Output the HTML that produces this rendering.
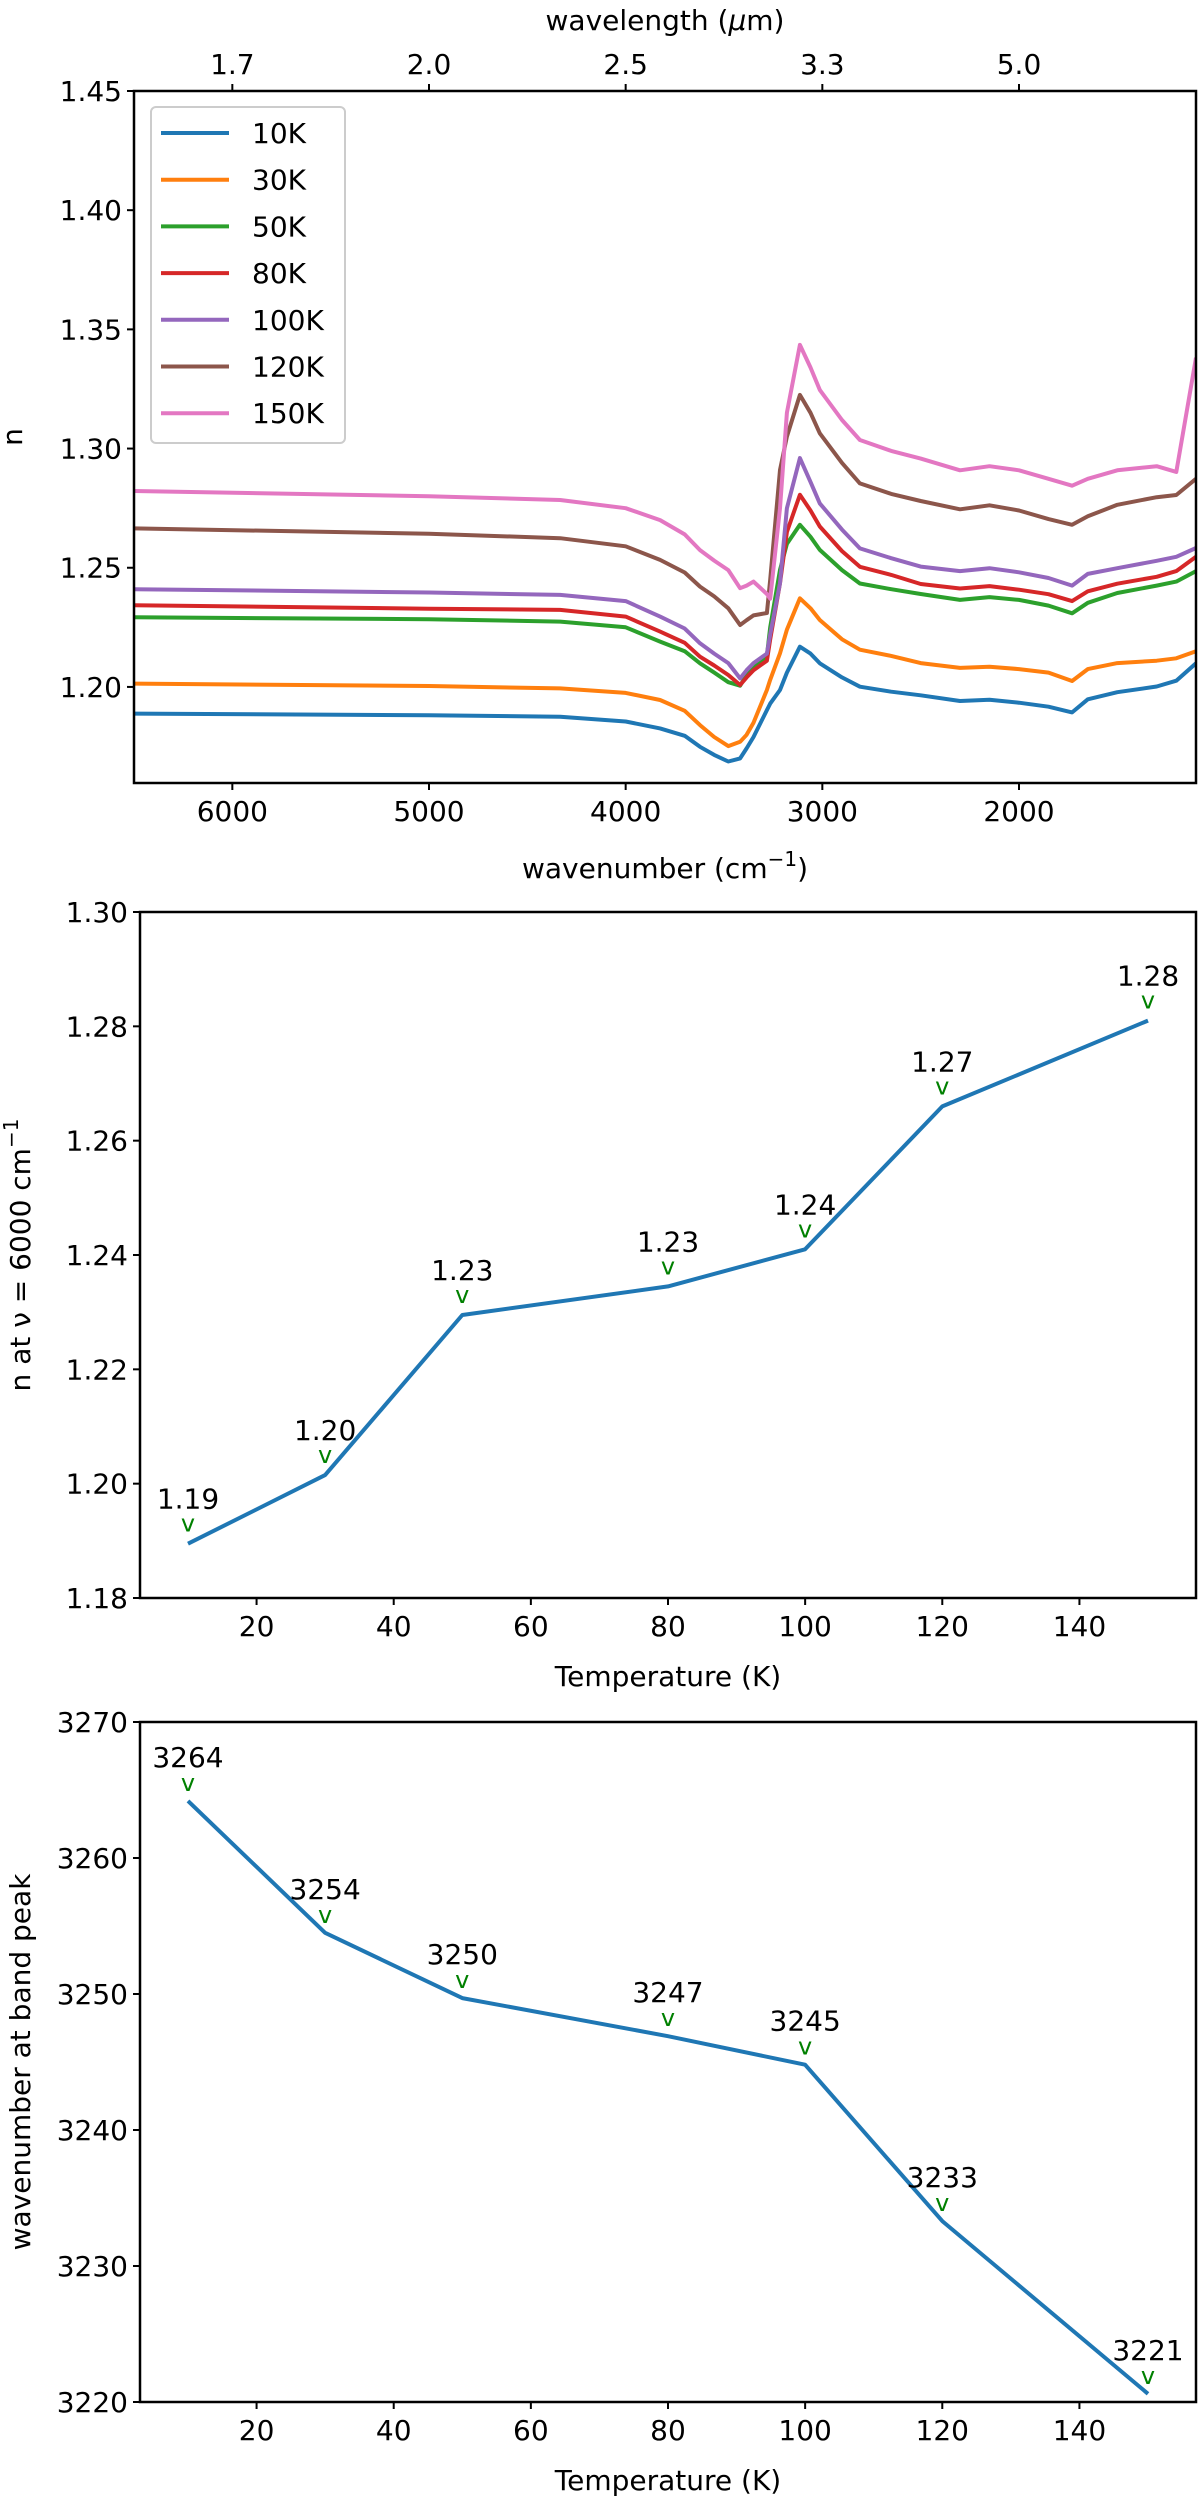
<!DOCTYPE html>
<html><head><meta charset="utf-8"><style>
html,body{margin:0;padding:0;background:#fff;}
svg{display:block;font-family:"DejaVu Sans","Liberation Sans",sans-serif;}
</style></head><body>
<svg id="fig" width="1200" height="2499" viewBox="0 0 1200 2499"></svg>
<script>
// ---------- Chart 1 data ----------
const wavenumbers=[6500,5000,4333,4000,3825,3700,3622,3550,3478,3418,3385,3350,3282,3265,3215,3180,3114,3060,3013,2900,2809,2650,2500,2300,2150,2000,1850,1730,1650,1500,1300,1200,1100];
const n10K=[1.1888,1.1881,1.1875,1.1855,1.1826,1.1795,1.1749,1.1715,1.1687,1.1700,1.1742,1.1790,1.1903,1.1930,1.1987,1.2060,1.2169,1.2140,1.2099,1.2040,1.2001,1.1980,1.1965,1.1941,1.1946,1.1934,1.1917,1.1893,1.1948,1.1978,1.2002,1.2026,1.2099];
const n30K=[1.2014,1.2004,1.1994,1.1975,1.1945,1.1900,1.1840,1.1790,1.1752,1.1770,1.1799,1.1850,1.1987,1.2030,1.2141,1.2240,1.2372,1.2330,1.2281,1.2200,1.2156,1.2130,1.2100,1.2080,1.2085,1.2075,1.2060,1.2025,1.2075,1.2100,1.2110,1.2120,1.2150];
const n50K=[1.2292,1.2284,1.2274,1.2250,1.2190,1.2150,1.2099,1.2060,1.2020,1.2005,1.2050,1.2085,1.2130,1.2250,1.2491,1.2600,1.2680,1.2630,1.2575,1.2490,1.2434,1.2410,1.2390,1.2365,1.2377,1.2365,1.2341,1.2309,1.2353,1.2394,1.2425,1.2442,1.2486];
const n80K=[1.2343,1.2328,1.2323,1.2295,1.2232,1.2185,1.2127,1.2090,1.2050,1.2008,1.2040,1.2070,1.2110,1.2200,1.2435,1.2650,1.2806,1.2740,1.2673,1.2570,1.2504,1.2470,1.2432,1.2413,1.2423,1.2408,1.2389,1.2360,1.2401,1.2433,1.2462,1.2486,1.2546];
const n100K=[1.2410,1.2396,1.2386,1.2360,1.2295,1.2245,1.2183,1.2140,1.2100,1.2036,1.2070,1.2100,1.2140,1.2220,1.2435,1.2750,1.2960,1.2860,1.2770,1.2660,1.2581,1.2540,1.2505,1.2486,1.2498,1.2481,1.2457,1.2425,1.2474,1.2498,1.2529,1.2546,1.2583];
const n120K=[1.2665,1.2643,1.2624,1.2590,1.2533,1.2480,1.2421,1.2380,1.2330,1.2260,1.2280,1.2300,1.2310,1.2450,1.2910,1.3050,1.3225,1.3150,1.3064,1.2940,1.2854,1.2810,1.2780,1.2745,1.2762,1.2740,1.2704,1.2680,1.2716,1.2764,1.2796,1.2805,1.2873];
const n150K=[1.2822,1.2800,1.2784,1.2750,1.2700,1.2640,1.2574,1.2530,1.2490,1.2414,1.2425,1.2442,1.2390,1.2370,1.2750,1.3150,1.3435,1.3340,1.3246,1.3120,1.3036,1.2990,1.2958,1.2909,1.2926,1.2909,1.2873,1.2844,1.2873,1.2909,1.2926,1.2902,1.3381];
const seriesLabels=["10K","30K","50K","80K","100K","120K","150K"];
const yTicks1=[1.20,1.25,1.30,1.35,1.40,1.45];
const xTicks1=[6000,5000,4000,3000,2000];
const topTickLabels=["1.7","2.0","2.5","3.3","5.0"];
// ---------- Chart 2 data ----------
const temps=[10,30,50,80,100,120,150];
const nAt6000=[1.1895,1.2015,1.2295,1.2345,1.241,1.266,1.281];
const nLabels=["1.19","1.20","1.23","1.23","1.24","1.27","1.28"];
const yTicks2=[1.18,1.20,1.22,1.24,1.26,1.28,1.30];
const xTicksT=[20,40,60,80,100,120,140];
// ---------- Chart 3 data ----------
const peakWn=[3264.2,3254.5,3249.7,3246.9,3244.8,3233.3,3220.6];
const peakLabels=["3264","3254","3250","3247","3245","3233","3221"];
const yTicks3=[3220,3230,3240,3250,3260,3270];

const NS="http://www.w3.org/2000/svg";
const svg=document.getElementById('fig');
function el(tag,attrs,parent,text){const e=document.createElementNS(NS,tag);for(const k in attrs)e.setAttribute(k,attrs[k]);if(text!==undefined)e.textContent=text;(parent||svg).appendChild(e);return e;}
const colors=["#1f77b4","#ff7f0e","#2ca02c","#d62728","#9467bd","#8c564b","#e377c2"];
const FS=28;

// ===== Chart 1 =====
const c1={l:134,r:1196,t:91,b:783};
const x1=w=>c1.l+(6500-w)/(6500-1100)*(c1.r-c1.l);
const y1=v=>c1.b-(v-1.1597)/(1.45-1.1597)*(c1.b-c1.t);
const g1=el('g',{});


const clip=el('clipPath',{id:'clip1'},g1);el('rect',{x:c1.l,y:c1.t,width:c1.r-c1.l,height:c1.b-c1.t},clip);
const allSeries=[n10K,n30K,n50K,n80K,n100K,n120K,n150K];
allSeries.forEach((s,i)=>{
  const d=s.map((v,j)=>(j?'L':'M')+x1(wavenumbers[j]).toFixed(1)+','+y1(v).toFixed(1)).join('');
  const p=el('path',{d:d,fill:'none',stroke:colors[i],'stroke-width':4,'stroke-linejoin':'round','clip-path':'url(#clip1)'},g1);
  
  
});
el('rect',{x:c1.l,y:c1.t,width:c1.r-c1.l,height:c1.b-c1.t,fill:'none',stroke:'#000','stroke-width':2.5},g1);
yTicks1.forEach(v=>{const y=y1(v);el('line',{x1:c1.l-7,x2:c1.l,y1:y,y2:y,stroke:'#000','stroke-width':2},g1);
  const t=el('text',{x:c1.l-12,y:y+10,'text-anchor':'end','font-size':FS},g1,v.toFixed(2));
  });
xTicks1.forEach((w,i)=>{const x=x1(w);
  el('line',{x1:x,x2:x,y1:c1.b,y2:c1.b+7,stroke:'#000','stroke-width':2},g1);
  el('line',{x1:x,x2:x,y1:c1.t-7,y2:c1.t,stroke:'#000','stroke-width':2},g1);
  const t=el('text',{x:x,y:c1.b+38,'text-anchor':'middle','font-size':FS},g1,String(w));
  
  const t2=el('text',{x:x,y:c1.t-17,'text-anchor':'middle','font-size':FS},g1,topTickLabels[i]);
  });
</script>
<script>
(function(){
const g=svg.lastChild;
const xl=el('text',{x:665,y:878,'text-anchor':'middle','font-size':FS},g);

xl.appendChild(document.createTextNode('wavenumber (cm'));
el('tspan',{dy:-12,'font-size':20},xl,'−1');
el('tspan',{dy:12},xl,')');
const tl=el('text',{x:665,y:30,'text-anchor':'middle','font-size':FS},g);

tl.appendChild(document.createTextNode('wavelength ('));
el('tspan',{'font-style':'italic'},tl,'μ');
tl.appendChild(document.createTextNode('m)'));
const yl=el('text',{x:0,y:0,'text-anchor':'middle','font-size':FS,transform:'translate(22,437) rotate(-90)'},g,'n');

const lg=el('g',{},g);

el('rect',{x:151,y:107,width:194,height:336,rx:5,fill:'#fff','fill-opacity':0.8,stroke:'#ccc','stroke-width':2},lg);
seriesLabels.forEach((s,i)=>{const y=133+i*46.7;
  const ln=el('line',{x1:161,x2:229,y1:y,y2:y,stroke:colors[i],'stroke-width':4},lg);
  
  const t=el('text',{x:252,y:y+10,'font-size':FS},lg,s);
  });
})();

function tempChart(box,ymin,ymax,yticks,yfmt,vals,labs,name,labOff){
  const g=el('g',{});
  
  
  const X=t=>box.l+(t-3)/(157-3)*(box.r-box.l);
  const Y=v=>box.b-(v-ymin)/(ymax-ymin)*(box.b-box.t);
  el('rect',{x:box.l,y:box.t,width:box.r-box.l,height:box.b-box.t,fill:'none',stroke:'#000','stroke-width':2.5},g);
  yticks.forEach(v=>{const y=Y(v);el('line',{x1:box.l-7,x2:box.l,y1:y,y2:y,stroke:'#000','stroke-width':2},g);
    const t=el('text',{x:box.l-12,y:y+10,'text-anchor':'end','font-size':FS},g,yfmt(v));
    });
  xTicksT.forEach(v=>{const x=X(v);el('line',{x1:x,x2:x,y1:box.b,y2:box.b+7,stroke:'#000','stroke-width':2},g);
    const t=el('text',{x:x,y:box.b+38,'text-anchor':'middle','font-size':FS},g,String(v));
    });
  const d=vals.map((v,j)=>(j?'L':'M')+X(temps[j]).toFixed(1)+','+Y(v).toFixed(1)).join('');
  const p=el('path',{d:d,fill:'none',stroke:'#1f77b4','stroke-width':4,'stroke-linejoin':'round'},g);
  
  vals.forEach((v,j)=>{const x=X(temps[j]),y=Y(v);
    const m=el('text',{x:x,y:y-labOff[0],'text-anchor':'middle','font-size':24,fill:'#008000'},g,'v');
    
    const t=el('text',{x:x,y:y-labOff[1],'text-anchor':'middle','font-size':FS},g,labs[j]);
    });
  const xl=el('text',{x:(box.l+box.r)/2,y:box.b+88,'text-anchor':'middle','font-size':FS},g,'Temperature (K)');
  
  const yl=el('text',{x:0,y:0,'text-anchor':'middle','font-size':FS,transform:'translate(30,'+((box.t+box.b)/2)+') rotate(-90)'},g);
  
  return yl;
}
const yl2=tempChart({l:140,r:1196,t:912,b:1598},1.18,1.30,yTicks2,v=>v.toFixed(2),nAt6000,nLabels,'n-vs-temperature-chart',[12,35]);
yl2.appendChild(document.createTextNode('n at ν = 6000 cm'));
el('tspan',{dy:-12,'font-size':20},yl2,'−1');
const yl3=tempChart({l:140,r:1196,t:1722,b:2402},3220,3270,yTicks3,v=>String(v),peakWn,peakLabels,'peak-vs-temperature-chart',[10,34]);
yl3.textContent='wavenumber at band peak';
</script>
</body></html>
